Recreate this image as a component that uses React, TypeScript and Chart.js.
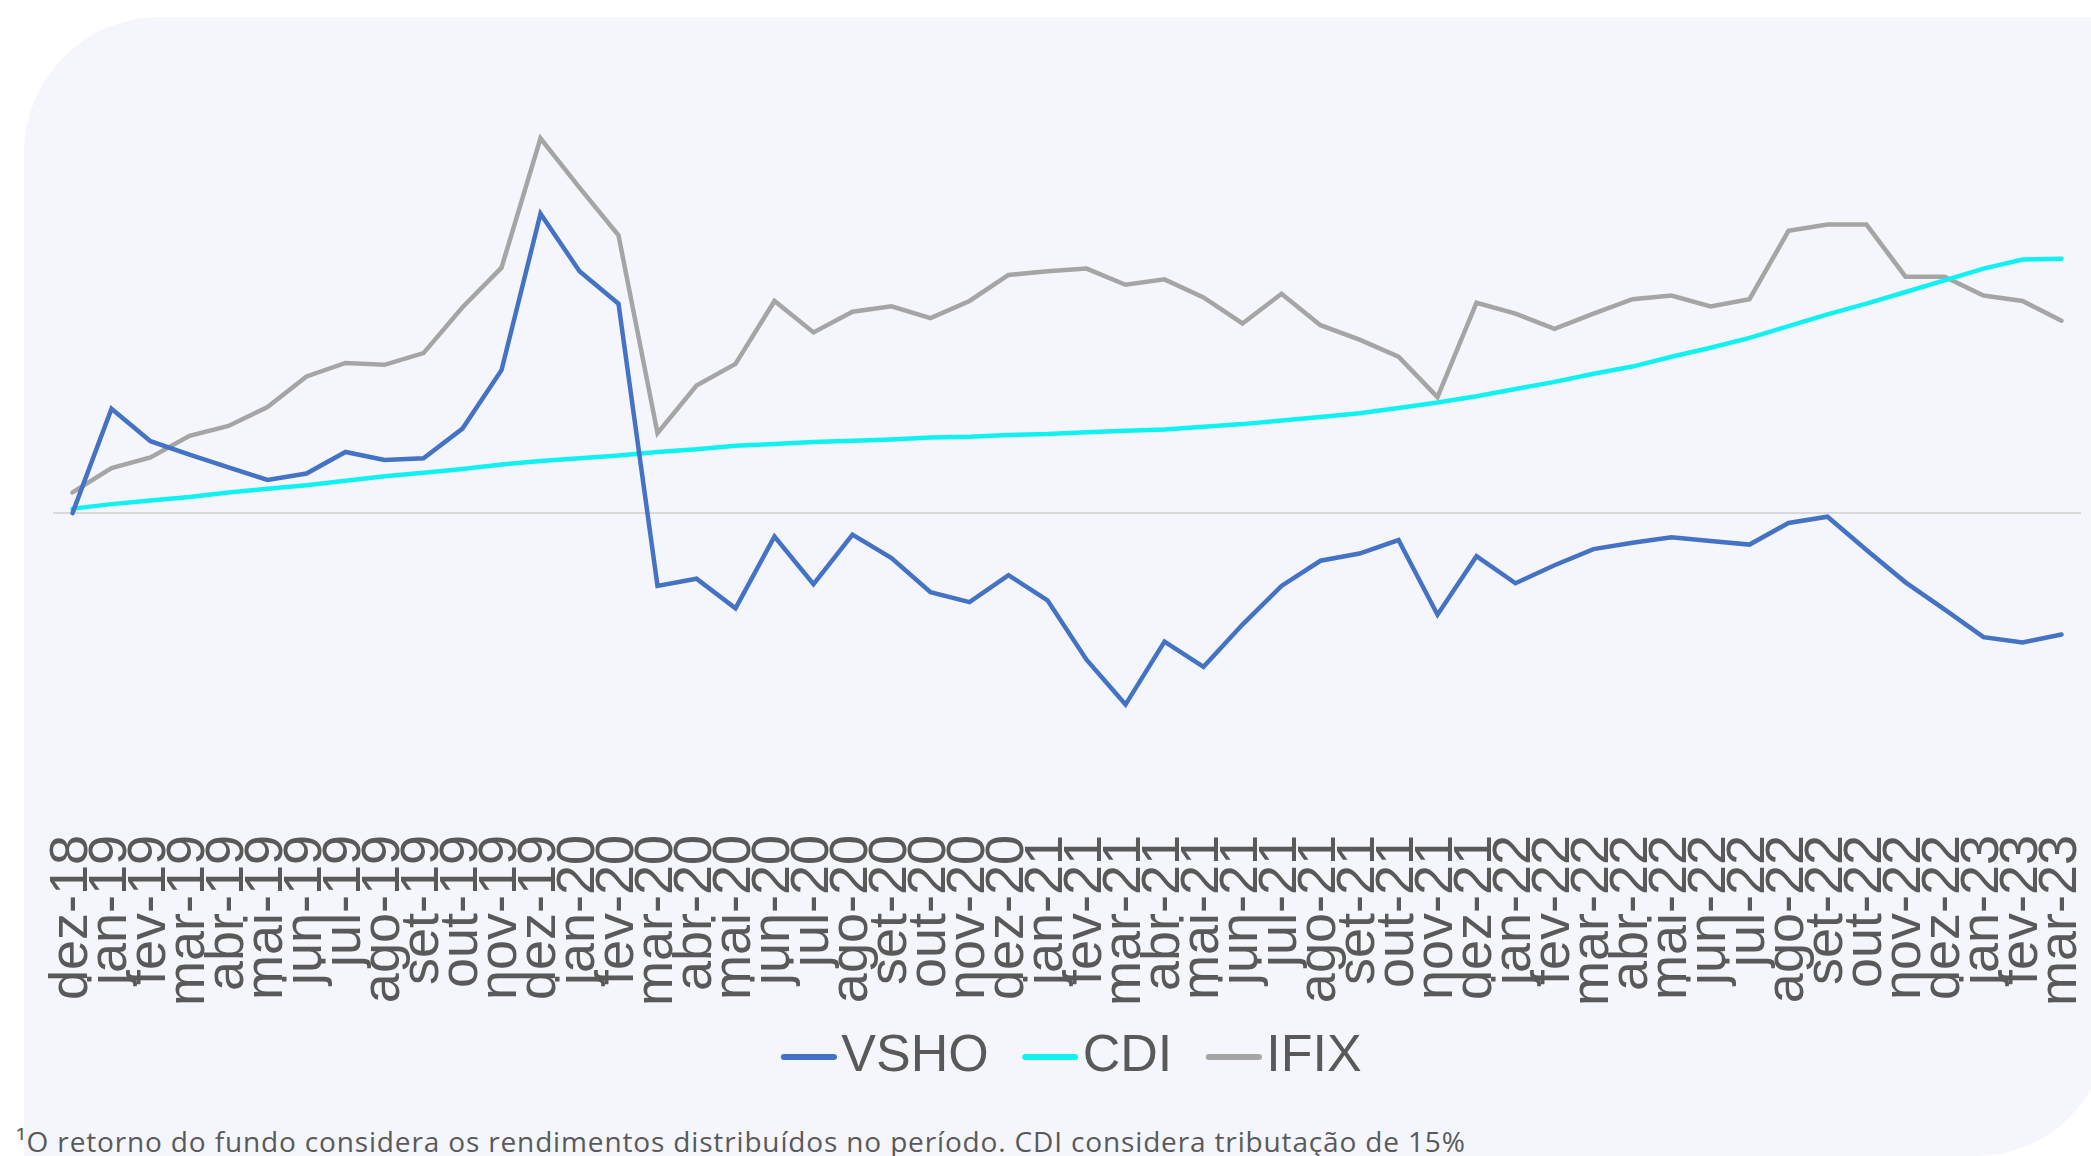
import React, { useEffect, useRef } from "react";
import { Chart, registerables } from "chart.js";

Chart.register(...registerables);

const tickLabels = [
  "dez-18",
  "jan-19", "fev-19", "mar-19", "abr-19", "mai-19", "jun-19", "jul-19", "ago-19", "set-19", "out-19", "nov-19", "dez-19",
  "jan-20", "fev-20", "mar-20", "abr-20", "mai-20", "jun-20", "jul-20", "ago-20", "set-20", "out-20", "nov-20", "dez-20",
  "jan-21", "fev-21", "mar-21", "abr-21", "mai-21", "jun-21", "jul-21", "ago-21", "set-21", "out-21", "nov-21", "dez-21",
  "jan-22", "fev-22", "mar-22", "abr-22", "mai-22", "jun-22", "jul-22", "ago-22", "set-22", "out-22", "nov-22", "dez-22",
  "jan-23", "fev-23", "mar-23",
];

const vshoValues = [
  0, 11.6, 8.0, 6.5, 5.1, 3.7, 4.4, 6.8, 5.9, 6.1, 9.4, 15.9, 33.3,
  26.9, 23.3, -8.1, -7.3, -10.6, -2.6, -7.9, -2.4, -5.0, -8.8, -9.9, -6.9,
  -9.7, -16.3, -21.3, -14.3, -17.1, -12.4, -8.1, -5.3, -4.5, -3.0, -11.3, -4.8,
  -7.8, -5.8, -4.0, -3.3, -2.7, -3.1, -3.5, -1.1, -0.4, -4.1, -7.7, -10.7,
  -13.8, -14.4, -13.5,
];

const cdiValues = [
  0.5, 1.0, 1.4, 1.8, 2.3, 2.7, 3.1, 3.6, 4.1, 4.5, 4.9, 5.4, 5.8,
  6.1, 6.4, 6.8, 7.1, 7.5, 7.7, 7.9, 8.05, 8.2, 8.4, 8.5, 8.7,
  8.8, 9.0, 9.15, 9.3, 9.6, 9.9, 10.3, 10.7, 11.1, 11.7, 12.3, 13.0,
  13.8, 14.6, 15.5, 16.3, 17.4, 18.4, 19.5, 20.8, 22.1, 23.3, 24.6, 25.9,
  27.2, 28.2, 28.3,
];

const ifixValues = [
  2.3, 5.0, 6.2, 8.6, 9.7, 11.8, 15.2, 16.7, 16.5, 17.8, 22.9, 27.3, 41.7,
  36.2, 30.9, 8.9, 14.2, 16.6, 23.6, 20.1, 22.4, 23.0, 21.7, 23.6, 26.5,
  26.9, 27.2, 25.4, 26.0, 24.0, 21.1, 24.4, 20.9, 19.3, 17.4, 12.9, 23.4,
  22.2, 20.5, 22.2, 23.8, 24.2, 23.0, 23.8, 31.4, 32.1, 32.1, 26.3, 26.3,
  24.2, 23.6, 21.4,
];

const seriesNames = ["VSHO", "CDI", "IFIX"];
const seriesColors = ["#4472C4", "#10F2F2", "#A5A5A5"];

const footnote =
  "\u00B9O retorno do fundo considera os rendimentos distribu\u00EDdos no per\u00EDodo. CDI considera tributa\u00E7\u00E3o de 15%";

// legend marker image: transparent left part, line on the right part
function makeLegendLine(color: string) {
  const c = document.createElement("canvas");
  c.width = 86;
  c.height = 8;
  const g = c.getContext("2d")!;
  g.strokeStyle = color;
  g.lineWidth = 6;
  g.lineCap = "round";
  g.beginPath();
  g.moveTo(33, 4);
  g.lineTo(83, 4);
  g.stroke();
  return c;
}

export default function App() {
  const ref = useRef<HTMLCanvasElement | null>(null);

  useEffect(() => {
    if (!ref.current) return;
    const all = [vshoValues, cdiValues, ifixValues];
    const chart = new Chart(ref.current, {
      type: "line",
      data: {
        labels: tickLabels,
        datasets: all.map((vals, i) => ({
          label: seriesNames[i],
          data: vals,
          borderColor: seriesColors[i],
          backgroundColor: seriesColors[i],
          borderWidth: 4.5,
          borderCapStyle: "round" as const,
          pointRadius: 0,
          pointHoverRadius: 0,
          pointStyle: makeLegendLine(seriesColors[i]) as any,
          tension: 0,
        })),
      },
      options: {
        responsive: false,
        animation: false,
        devicePixelRatio: 1,
        layout: { padding: { left: 53, right: 10, top: 40, bottom: 7 } },
        plugins: {
          tooltip: { enabled: false },
          legend: {
            position: "bottom",
            labels: {
              usePointStyle: true,
              pointStyleWidth: 43,
              padding: 25,
              color: "#595959",
              font: { family: "'Liberation Sans', Arial, sans-serif", size: 52 },
            },
          },
        },
        scales: {
          x: {
            offset: true,
            grid: { display: false, drawTicks: false },
            border: { display: false },
            ticks: {
              autoSkip: false,
              minRotation: 90,
              maxRotation: 90,
              padding: 6,
              color: "#595959",
              font: { family: "'Liberation Sans', Arial, sans-serif", size: 54 },
            },
            afterFit: (s: any) => {
              s.height = 177;
              s.paddingLeft = 0;
              s.paddingRight = 0;
            },
          },
          y: {
            min: -35.14,
            max: 52.63,
            border: { display: false },
            grid: {
              drawTicks: false,
              lineWidth: 2,
              color: (c: any) => (c.tick && c.tick.value === 0 ? "#D9D9D9" : "rgba(0,0,0,0)"),
            },
            ticks: { display: false, stepSize: 10 },
            afterFit: (s: any) => {
              s.width = 0;
            },
          },
        },
      },
    });
    return () => chart.destroy();
  }, []);

  return (
    <div
      style={{
        position: "fixed",
        left: 0,
        top: 0,
        width: 2091,
        height: 1156,
        overflow: "hidden",
        background: "#FFFFFF",
      }}
    >
      <div
        style={{
          position: "absolute",
          left: 24,
          top: 17,
          width: 2083,
          height: 1139,
          background: "#F4F6FB",
          borderTopLeftRadius: 136,
          borderBottomRightRadius: 130,
        }}
      />
      <canvas
        ref={ref}
        width={2091}
        height={1100}
        style={{ position: "absolute", left: 0, top: 0, width: 2091, height: 1100 }}
      />
      <div
        style={{
          position: "absolute",
          left: 16,
          top: 1128,
          fontFamily: "'Open Sans', sans-serif",
          fontSize: 28,
          letterSpacing: "0.85px",
          lineHeight: "27px",
          color: "#595959",
          whiteSpace: "nowrap",
        }}
      >
        {footnote}
      </div>
    </div>
  );
}
